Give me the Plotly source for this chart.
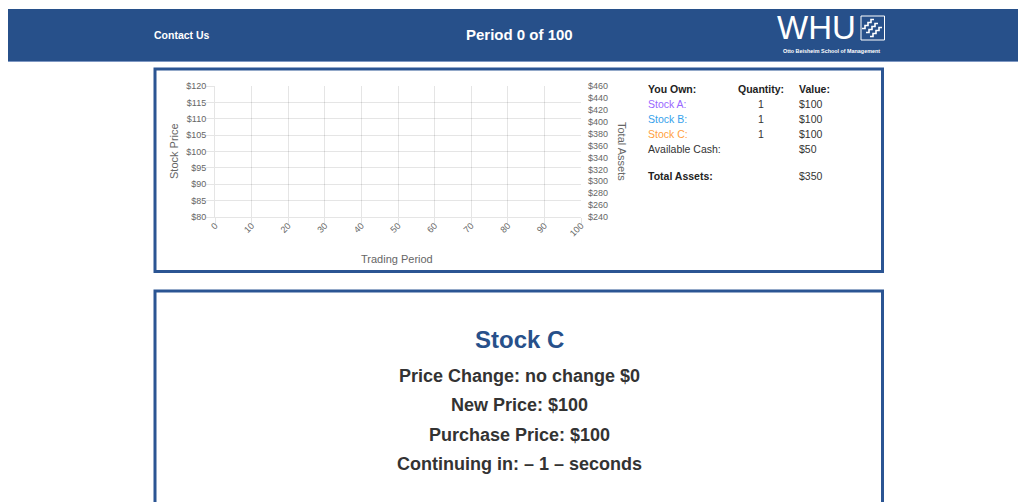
import plotly.graph_objects as go

# ---------------- data ----------------
period_now = 0
period_total = 100

# price / asset history (nothing traded yet at period 0)
periods = []
stock_a_price = []
stock_b_price = []
stock_c_price = []
total_assets_hist = []

x_tick_vals = [0, 10, 20, 30, 40, 50, 60, 70, 80, 90, 100]
price_tick_vals = [80, 85, 90, 95, 100, 105, 110, 115, 120]
price_tick_text = ["$80", "$85", "$90", "$95", "$100", "$105", "$110", "$115", "$120"]
asset_tick_vals = [240, 260, 280, 300, 320, 340, 360, 380, 400, 420, 440, 460]
asset_tick_text = ["$240", "$260", "$280", "$300", "$320", "$340", "$360", "$380",
                   "$400", "$420", "$440", "$460"]

holding_names = ["Stock A:", "Stock B:", "Stock C:"]
holding_colors = ["#9966ff", "#36a2eb", "#ff9f40"]
holding_qty = [1, 1, 1]
holding_value = [100, 100, 100]
available_cash = 50
total_assets = 350

info_title = "Stock C"
info_lines = [
    "Price Change: no change $0",
    "New Price: $100",
    "Purchase Price: $100",
    "Continuing in: \u2013 1 \u2013 seconds",
]

# ---------------- helpers ----------------
PAGE_M = 0                      # body margin removed by post_script below
W, H = 1018 - 2 * PAGE_M, 502 - 2 * PAGE_M
FONT = "Liberation Sans, Arial, Helvetica, sans-serif"
HDR = "#27508a"
BORDER = "#2b5593"
GRID = "rgba(0,0,0,0.1)"


def px(x):
    return (x - PAGE_M) / W


def py(y):
    return 1 - (y - PAGE_M) / H


fig = go.Figure()

line_series = [
    ("Stock A", stock_a_price, holding_colors[0], "y"),
    ("Stock B", stock_b_price, holding_colors[1], "y"),
    ("Stock C", stock_c_price, holding_colors[2], "y"),
    ("Total Assets", total_assets_hist, "#4bc0c0", "y2"),
]
for name, vals, col, ax in line_series:
    fig.add_trace(go.Scatter(x=periods[:len(vals)], y=vals, mode="lines", name=name,
                             line=dict(color=col, width=2), yaxis=ax, showlegend=False))

shapes = []
# header band
shapes.append(dict(type="rect", xref="paper", yref="paper", x0=px(8), x1=px(1030),
                   y0=py(9), y1=py(61), fillcolor=HDR, line=dict(width=0), layer="below"))
shapes.append(dict(type="line", xref="paper", yref="paper", x0=px(8), x1=px(1030),
                   y0=py(61.5), y1=py(61.5), line=dict(color="#7d97c2", width=1)))
# logo icon
shapes.append(dict(type="rect", xref="paper", yref="paper", x0=px(861), x1=px(884.5),
                   y0=py(16), y1=py(40), line=dict(color="white", width=1)))
for dx, dy in [(-4, -4), (0, 0), (4, 4)]:
    pts = []
    x0, y0 = 866 + dx, 32.5 + dy
    for k in range(4):
        pts.append((x0 + 3 * k, y0 - 3 * k))
        pts.append((x0 + 3 * k + 3, y0 - 3 * k))
    path = "M " + " L ".join(f"{px(a)},{py(b)}" for a, b in pts)
    shapes.append(dict(type="path", xref="paper", yref="paper", path=path,
                       line=dict(color="white", width=1.6)))
# panels
shapes.append(dict(type="rect", xref="paper", yref="paper", x0=px(155), x1=px(882.5),
                   y0=py(69), y1=py(271.5), line=dict(color=BORDER, width=3),
                   fillcolor="white", layer="below"))
shapes.append(dict(type="rect", xref="paper", yref="paper", x0=px(155), x1=px(882.5),
                   y0=py(291), y1=py(530), line=dict(color=BORDER, width=3),
                   fillcolor="white", layer="below"))

ann = []


def text(x, y, s, size, color="#333", bold=False, xanchor="left", angle=0, family=FONT):
    if bold:
        s = f"<b>{s}</b>"
    if xanchor == "left":
        x -= 2   # compensate the annotation's inner padding
    ann.append(dict(x=px(x), y=py(y), xref="paper", yref="paper", text=s, showarrow=False,
                    xanchor=xanchor, yanchor="middle", textangle=angle,
                    font=dict(size=size, color=color, family=family)))


# header
text(154, 35, "Contact Us", 10.5, "white", True)
text(519, 35, f"Period {period_now} of {period_total}", 15, "white", True, "center")
text(816, 28, "WHU", 33, "white", False, "center")
text(831, 51, "Otto Beisheim School of Management", 5.4, "white", True, "center")

# axis titles
text(174, 151, "Stock Price", 11, "#666", False, "center", -90)
text(622, 151, "Total Assets", 11, "#666", False, "center", 90)
text(397, 259, "Trading Period", 11, "#666", False, "center")

# holdings table
text(648, 89, "You Own:", 10.5, "#222", True)
text(738, 89, "Quantity:", 10.5, "#222", True)
text(799, 89, "Value:", 10.5, "#222", True)
row_y = [104, 119, 134]
for name, col, q, v, yy in zip(holding_names, holding_colors, holding_qty, holding_value, row_y):
    text(648, yy, name, 10.5, col)
    text(761, yy, str(q), 10.5, "#333", False, "center")
    text(799, yy, f"${v}", 10.5, "#333")
text(648, 149, "Available Cash:", 10.5, "#333")
text(799, 149, f"${available_cash}", 10.5, "#333")
text(648, 176, "Total Assets:", 10.5, "#222", True)
text(799, 176, f"${total_assets}", 10.5, "#333")

# info panel
text(519, 339, info_title, 24, HDR, True, "center")
for s, yy in zip(info_lines, [376, 405, 435, 464]):
    text(519, yy, s, 18, "#333", True, "center")

tickfont = dict(size=9, color="#666", family=FONT)
fig.update_layout(
    width=W, height=H, margin=dict(l=0, r=0, t=0, b=0, pad=0, autoexpand=False),
    paper_bgcolor="white", plot_bgcolor="white", showlegend=False,
    shapes=shapes, annotations=ann,
    xaxis=dict(domain=[px(215), px(581)], range=[0, 100], tickvals=x_tick_vals,
               tickangle=-45, tickfont=tickfont, showgrid=True, gridcolor=GRID,
               ticks="outside", ticklen=6, tickcolor=GRID, showline=True,
               linecolor=GRID, zeroline=False, anchor="y", fixedrange=True,
               automargin=False, ticklabelstandoff=-7),
    yaxis=dict(domain=[py(217), py(86)], range=[80, 120], tickvals=price_tick_vals,
               ticktext=price_tick_text, tickfont=tickfont, showgrid=True, gridcolor=GRID,
               ticks="outside", ticklen=8, tickcolor=GRID, showline=True,
               linecolor=GRID, zeroline=False, anchor="x", fixedrange=True,
               automargin=False, ticklabelstandoff=-2),
    yaxis2=dict(range=[240, 460], tickvals=asset_tick_vals, ticktext=asset_tick_text,
                tickfont=tickfont, overlaying="y", side="right", anchor="x",
                showgrid=False, ticks="", zeroline=False, showline=False,
                ticklabelstandoff=6, fixedrange=True, automargin=False),
)

fig.write_html("out.html", config={"displayModeBar": False},
               post_script="document.body.style.margin='0px';document.documentElement.style.overflow='hidden';")
